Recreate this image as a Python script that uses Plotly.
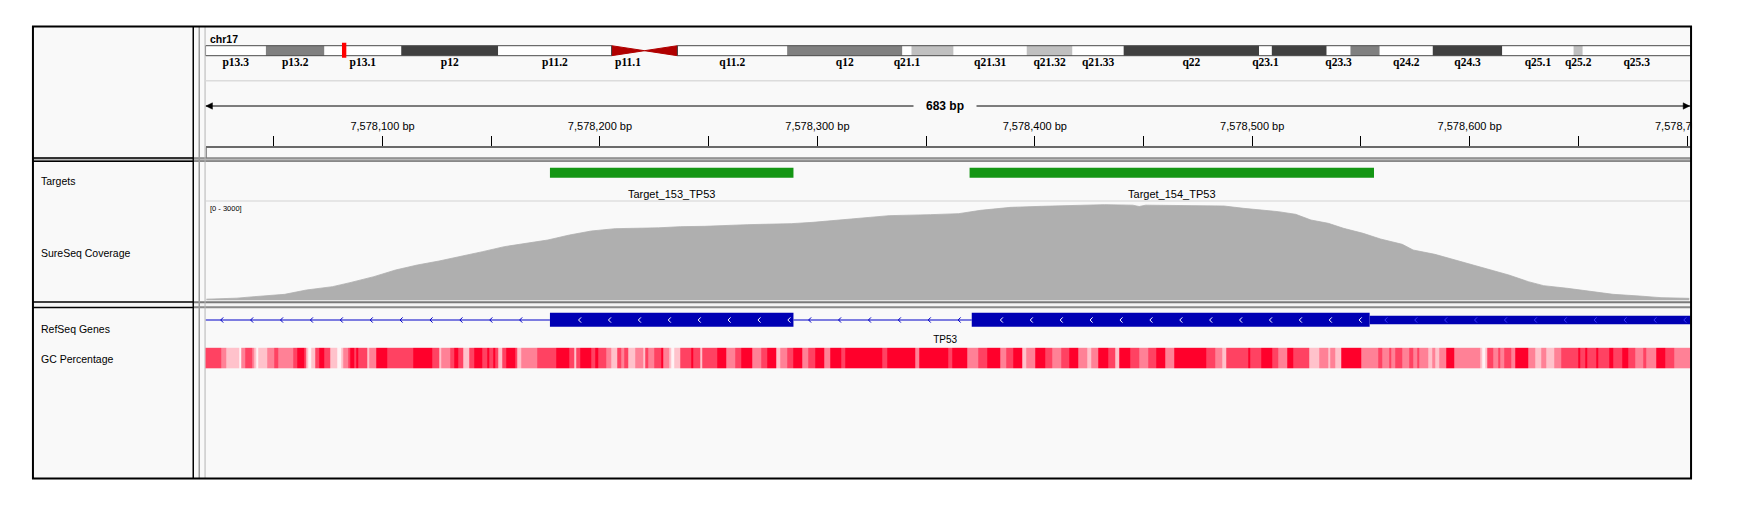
import plotly.graph_objects as go

W, H = 1753, 513

# ============================ DATA ============================
chrom_name = "chr17"
chrom_length = 81195210
band_names = ["p13.3", "p13.2", "p13.1", "p12", "p11.2", "p11.1", "q11.1", "q11.2",
              "q12", "q21.1", "q21.2", "q21.31", "q21.32", "q21.33", "q22", "q23.1",
              "q23.2", "q23.3", "q24.1", "q24.2", "q24.3", "q25.1", "q25.2", "q25.3"]
band_starts = [0, 3300000, 6500000, 10700000, 16000000, 22200000, 24000000, 25800000,
               31800000, 38100000, 38600000, 40900000, 44900000, 47400000, 50200000, 57600000,
               58300000, 61300000, 62600000, 64200000, 67100000, 70900000, 74800000, 75300000]
band_stains = ["gneg", "gpos50", "gneg", "gpos75", "gneg", "acen", "acen", "gneg",
               "gpos50", "gneg", "gpos25", "gneg", "gpos25", "gneg", "gpos75", "gneg",
               "gpos75", "gneg", "gpos50", "gneg", "gpos75", "gneg", "gpos25", "gneg"]
band_labels_hidden = ["q11.1", "q21.2", "q23.2", "q24.1"]

view_start = 7578018.6
view_end = 7578701.6
view_width_text = "683 bp"

ruler_ticks = [7578050, 7578100, 7578150, 7578200, 7578250, 7578300, 7578350,
               7578400, 7578450, 7578500, 7578550, 7578600, 7578650, 7578700]
ruler_tick_text = ["", "7,578,100 bp", "", "7,578,200 bp", "", "7,578,300 bp", "",
                   "7,578,400 bp", "", "7,578,500 bp", "", "7,578,600 bp", "", "7,578,700 bp"]

track_names = ["Targets", "SureSeq Coverage", "RefSeq Genes", "GC Percentage"]

target_names = ["Target_153_TP53", "Target_154_TP53"]
target_starts = [7578177, 7578370]
target_ends = [7578289, 7578556]

pos_base = 7578000
cov_offset = [19, 33, 41, 55, 65, 77, 85, 96, 106, 116, 126, 136, 146, 156, 166, 176, 186,
              196, 207, 216, 227, 237, 248, 268, 288, 298, 308, 320, 323, 333, 352, 365, 375,
              389, 403, 418, 432, 445, 448, 451, 464, 475, 487, 496, 505, 512, 520, 527, 535,
              542, 551, 559, 569, 574, 584, 592, 599, 609, 618, 627, 634, 645, 655, 666, 678,
              688, 701]
cov_value = [40, 70, 115, 185, 315, 415, 535, 715, 915, 1065, 1185, 1315, 1465, 1615, 1715,
             1815, 1965, 2085, 2155, 2160, 2180, 2215, 2225, 2275, 2305, 2345, 2405, 2475,
             2495, 2545, 2575, 2605, 2705, 2795, 2825, 2855, 2875, 2860, 2820, 2860, 2850,
             2855, 2835, 2765, 2715, 2665, 2585, 2415, 2315, 2165, 2015, 1845, 1685, 1515,
             1385, 1235, 1115, 935, 765, 565, 445, 365, 285, 185, 135, 85, 65]
cov_max = 3000
cov_range_text = "[0 - 3000]"

gene_name = "TP53"
exon_starts = [7578177, 7578371]
exon_ends = [7578289, 7578554]
thin_starts = [7578554]
thin_ends = [7578702]

gc_run_start = [18, 26, 28, 34, 35, 37, 40, 41, 42, 43, 47, 50, 52, 59, 61, 64, 65, 66, 67, 69,
                71, 73, 76, 79, 81, 82, 84, 85, 87, 88, 89, 93, 94, 97, 102, 114, 123, 126, 127,
                131, 133, 135, 137, 140, 142, 146, 148, 149, 151, 152, 153, 155, 157, 161, 162,
                164, 171, 180, 186, 188, 189, 191, 196, 198, 199, 203, 205, 208, 210, 211, 213,
                216, 220, 221, 222, 225, 228, 229, 232, 233, 234, 237, 242, 243, 246, 247,
                251, 254, 258, 262, 265, 270, 274, 277, 281, 283, 286, 289, 293, 296, 299, 303,
                306, 311, 313, 330, 332, 345, 347, 360, 362, 369, 374, 378, 384, 387, 390, 394,
                396, 400, 405, 408, 412, 416, 420, 424, 426, 429, 434, 437, 439, 444, 448, 452,
                456, 460,
                464, 479, 483, 486, 488, 498, 499, 504, 509, 512, 516, 519, 526, 531, 535, 536,
                538, 541, 550, 558, 560, 563, 564, 566, 569, 572, 574, 576, 577, 581, 583, 584,
                586, 589, 593, 605, 606, 607, 608, 611, 613, 614, 616, 619, 621, 627, 630, 633,
                635, 639, 642, 650, 651, 653, 654, 658, 659, 664, 666, 670, 673, 676, 680, 681,
                686, 690, 694]
gc_level = [3, 2, 1, 0, 2, 3, 2, 1, 0, 1, 2, 3, 2, 3, 4, 3, 1, 0, 1, 3,
            4, 3, 1, 0, 1, 2, 3, 4, 3, 4, 3, 1, 2, 4, 3, 4, 3, 1, 2,
            3, 4, 3, 1, 3, 4, 3, 4, 3, 4, 3, 1, 3, 4, 3, 1,
            2, 3, 4, 3, 1, 3, 4, 3, 4, 3, 2, 1, 3, 2, 3, 1,
            2, 1, 3, 2, 3, 4, 2, 1, 0, 1, 3, 4, 3, 1, 3,
            3, 4, 2, 3, 4, 2, 3, 4, 1, 2, 3, 4, 2, 3, 4, 2,
            4, 3, 4, 3, 4, 2, 4, 3, 4, 2, 3, 4, 2, 3, 4, 1,
            2, 4, 3, 2, 3, 4, 2, 1, 2, 4, 3, 1, 4, 3, 2, 3,
            4, 2,
            4, 3, 2, 1, 3, 4, 3, 4, 3, 2, 4, 3, 1, 2, 1, 2,
            1, 4, 2, 3, 2, 3, 2, 3, 2, 3, 2, 3, 2, 1, 2, 1,
            2, 4, 2, 1, 0, 1, 3, 2, 3, 2, 3, 2, 4, 2, 1, 2,
            1, 2, 3, 4, 3, 4, 3, 4, 3, 4, 3, 4, 3, 2, 3, 2,
            4, 3, 2]
gc_end = 702

# ============================ STYLE / LAYOUT ============================
FONT = "Liberation Sans"
X0, X1 = 209.0, 1719.0            # data panel, px
BOX_L, BOX_R, BOX_T, BOX_B = 33.5, 1719.5, 26.5, 478.5
NAME_R = 196.5
BG = "#f9f9f9"
stain_color = {"gneg": "#ffffff", "gpos25": "#c0c0c0", "gpos50": "#808080",
               "gpos75": "#404040", "gpos100": "#000000"}
gc_scale = [[0.0, "#fff3f5"], [0.25, "#ffc2cb"], [0.5, "#ff8196"],
            [0.75, "#ff4262"], [1.0, "#ff002b"]]

xdom = [X0 / W, X1 / W]


def ydom(top, bot):
    return [1 - bot / H, 1 - top / H]


def P(x, y):
    return x / W, 1 - y / H


def hline(x0, x1, y, color, w, layer="below"):
    return dict(type="line", xref="paper", yref="paper", x0=x0 / W, x1=x1 / W,
                y0=1 - y / H, y1=1 - y / H, line=dict(color=color, width=w), layer=layer)


def vline(x, y0, y1, color, w, layer="below"):
    return dict(type="line", xref="paper", yref="paper", x0=x / W, x1=x / W,
                y0=1 - y0 / H, y1=1 - y1 / H, line=dict(color=color, width=w), layer=layer)


def prect(x0, x1, y0, y1, fill, line_color=None, w=0, layer="below"):
    return dict(type="rect", xref="paper", yref="paper", x0=x0 / W, x1=x1 / W,
                y0=1 - y1 / H, y1=1 - y0 / H, fillcolor=fill,
                line=dict(color=line_color or "rgba(0,0,0,0)", width=w), layer=layer)


band_ends = band_starts[1:] + [chrom_length]
px_per_bp = (X1 - X0) / (view_end - view_start)
chrom_per_px = chrom_length / (X1 - X0)
vc = (view_start + view_end) / 2

fig = go.Figure()

# ---------------- ideogram ----------------
IDEO_T, IDEO_B = 45.7, 55.7
ideo_mid = (IDEO_T + IDEO_B) / 2
norm = [i for i, s in enumerate(band_stains) if s != "acen"]
fig.add_trace(go.Bar(
    orientation="h", base=[band_starts[i] for i in norm],
    x=[band_ends[i] - band_starts[i] for i in norm], y=[ideo_mid] * len(norm),
    width=IDEO_B - IDEO_T, marker=dict(color=[stain_color[band_stains[i]] for i in norm],
                                       line=dict(width=0)),
    xaxis="x2", yaxis="y", hoverinfo="skip", showlegend=False))
acen = [i for i, s in enumerate(band_stains) if s == "acen"]
p_cen, q_cen = acen[0], acen[1]
tri_x = [band_starts[p_cen], band_starts[p_cen], band_ends[p_cen], band_starts[p_cen], None,
         band_ends[q_cen], band_ends[q_cen], band_starts[q_cen], band_ends[q_cen]]
tri_y = [IDEO_T, IDEO_B, ideo_mid, IDEO_T, None, IDEO_T, IDEO_B, ideo_mid, IDEO_T]
fig.add_trace(go.Scatter(x=tri_x, y=tri_y, mode="lines", fill="toself",
                         fillcolor="#b00000", line=dict(color="#b00000", width=1),
                         xaxis="x2", yaxis="y", hoverinfo="skip", showlegend=False))
lab_idx = [i for i, n in enumerate(band_names) if n not in band_labels_hidden]
fig.add_trace(go.Scatter(
    x=[(band_starts[i] + band_ends[i]) / 2 for i in lab_idx], y=[62.8] * len(lab_idx),
    text=[band_names[i] for i in lab_idx], mode="text",
    textfont=dict(family="Liberation Serif", size=11.5, color="#000000", weight="bold"),
    xaxis="x2", yaxis="y", hoverinfo="skip", showlegend=False, cliponaxis=False))

# ---------------- targets ----------------
TG_Y = 172.7
fig.add_trace(go.Bar(
    orientation="h", base=target_starts,
    x=[e - s for s, e in zip(target_starts, target_ends)], y=[TG_Y] * len(target_starts),
    width=10, marker=dict(color="#149614", line=dict(width=0)),
    xaxis="x", yaxis="y2", hoverinfo="skip", showlegend=False))
fig.add_trace(go.Scatter(
    x=[(s + e) / 2 for s, e in zip(target_starts, target_ends)], y=[195.0] * len(target_names),
    text=target_names, mode="text", textfont=dict(family=FONT, size=11, color="#000000"),
    xaxis="x", yaxis="y2", hoverinfo="skip", showlegend=False, cliponaxis=False))

# ---------------- coverage ----------------
fig.add_trace(go.Scatter(
    x=[pos_base + o for o in cov_offset], y=cov_value, mode="lines", fill="tozeroy",
    fillcolor="#afafaf", line=dict(color="#afafaf", width=0.8),
    xaxis="x", yaxis="y3", hoverinfo="skip", showlegend=False))

# ---------------- gene ----------------
GENE_Y = 320.0
fig.add_trace(go.Bar(
    orientation="h", base=thin_starts, x=[e - s for s, e in zip(thin_starts, thin_ends)],
    y=[GENE_Y] * len(thin_starts), width=8.4, marker=dict(color="#0000b4", line=dict(width=0)),
    xaxis="x", yaxis="y4", hoverinfo="skip", showlegend=False))
fig.add_trace(go.Bar(
    orientation="h", base=exon_starts, x=[e - s for s, e in zip(exon_starts, exon_ends)],
    y=[GENE_Y - 0.3] * len(exon_starts), width=14, marker=dict(color="#0000b4", line=dict(width=0)),
    xaxis="x", yaxis="y4", hoverinfo="skip", showlegend=False))

blocks = sorted(zip(exon_starts + thin_starts, exon_ends + thin_ends))
introns = []
cur = view_start
for s, e in blocks:
    if s > cur:
        introns.append((cur, s))
    cur = max(cur, e)
if cur < view_end:
    introns.append((cur, view_end))

ix, iy = [], []
for s, e in introns:
    ix += [s, e, None]
    iy += [GENE_Y, GENE_Y, None]
fig.add_trace(go.Scatter(x=ix, y=iy, mode="lines", line=dict(color="#0000c8", width=1.2),
                         xaxis="x", yaxis="y4", hoverinfo="skip", showlegend=False))

step = 30.4 / px_per_bp
hw = 1.3 / px_per_bp
hh = 2.6


def chevrons(starts_ends, first, margin):
    xs, ys = [], []
    for s, e in starts_ends:
        c = s + first * step
        while c <= e - margin * step:
            xs += [c + hw, c - hw, c + hw, None]
            ys += [GENE_Y - hh, GENE_Y, GENE_Y + hh, None]
            c += step
    return xs, ys


cx, cy = chevrons(introns, 0.55, 0.3)
fig.add_trace(go.Scatter(x=cx, y=cy, mode="lines", line=dict(color="#0000c8", width=1),
                         xaxis="x", yaxis="y4", hoverinfo="skip", showlegend=False))
cx, cy = chevrons(list(zip(exon_starts, exon_ends)), 1.0, 0.1)
fig.add_trace(go.Scatter(x=cx, y=cy, mode="lines", line=dict(color="#ffffff", width=1),
                         xaxis="x", yaxis="y4", hoverinfo="skip", showlegend=False))
cx, cy = chevrons(list(zip(thin_starts, thin_ends)), 0.55, 0.0)
fig.add_trace(go.Scatter(x=cx, y=cy, mode="lines", line=dict(color="#3a3aff", width=1),
                         xaxis="x", yaxis="y4", hoverinfo="skip", showlegend=False))
fig.add_trace(go.Scatter(
    x=[vc - 3 / px_per_bp], y=[340.5], text=[gene_name], mode="text",
    textfont=dict(family=FONT, size=10, color="#000000"),
    xaxis="x", yaxis="y4", hoverinfo="skip", showlegend=False, cliponaxis=False))

# ---------------- GC percentage ----------------
gc_edges = [pos_base + s for s in gc_run_start] + [pos_base + gc_end]
fig.add_trace(go.Heatmap(
    x=gc_edges, y=[0, 1], z=[gc_level], zmin=0, zmax=4, colorscale=gc_scale,
    showscale=False, xaxis="x", yaxis="y5", hoverinfo="skip"))

# ruler axis holder
fig.add_trace(go.Scatter(x=[view_start], y=[0.5], mode="markers", marker=dict(opacity=0),
                         xaxis="x3", yaxis="y6", hoverinfo="skip", showlegend=False))

# ---------------- shapes ----------------
shapes = []
shapes.append(prect(BOX_L, BOX_R, BOX_T, BOX_B, BG))
shapes.append(prect(BOX_L, BOX_R, 157.5, 161.5, "#b8b8b8"))
shapes.append(hline(NAME_R, BOX_R, 158.0, "#6e6e6e", 1.2))
shapes.append(hline(NAME_R, BOX_R, 161.2, "#6e6e6e", 1.2))
shapes.append(hline(BOX_L, NAME_R, 158.0, "#000000", 1.5))
shapes.append(hline(BOX_L, NAME_R, 161.2, "#000000", 1.5))
shapes.append(prect(BOX_L, BOX_R, 301.0, 308.3, "#f4f4f4"))
shapes.append(hline(NAME_R, BOX_R, 302.2, "#7a7a7a", 2))
shapes.append(hline(NAME_R, BOX_R, 307.2, "#8a8a8a", 2))
shapes.append(hline(BOX_L, NAME_R, 302.0, "#000000", 1.5))
shapes.append(hline(BOX_L, NAME_R, 307.5, "#000000", 1.5))
shapes.append(vline(NAME_R, BOX_T, BOX_B, "#000000", 1.5))
shapes.append(vline(202.6, BOX_T, BOX_B, "#9a9a9a", 1.5))
shapes.append(vline(X0 - 0.5, BOX_T, BOX_B, "#b4b4b4", 1))
shapes.append(hline(X0, X1, 80.7, "#dcdcdc", 1.6))
shapes.append(vline(X0 + 0.8, 147.5, 158.0, "#7a7a7a", 1))
shapes.append(hline(X0, X1, 201.0, "#d4d4d4", 1.2))
RY = 106.0
shapes.append(dict(type="line", xref="x", yref="paper", x0=view_start, x1=view_end,
                   y0=1 - RY / H, y1=1 - RY / H, line=dict(color="#000000", width=1),
                   layer="below"))
ax0, ay0 = P(X0 + 0.5, RY)
ax1, ay1 = P(X0 + 7, RY - 3.2)
ax2, ay2 = P(X0 + 7, RY + 3.2)
shapes.append(dict(type="path", xref="paper", yref="paper",
                   path=f"M{ax0},{ay0} L{ax1},{ay1} L{ax2},{ay2} Z",
                   fillcolor="#000000", line=dict(color="#000000", width=0.5)))
bx0, by0 = P(X1 - 1.0, RY)
bx1, by1 = P(X1 - 7.5, RY - 3.2)
bx2, by2 = P(X1 - 7.5, RY + 3.2)
shapes.append(dict(type="path", xref="paper", yref="paper",
                   path=f"M{bx0},{by0} L{bx1},{by1} L{bx2},{by2} Z",
                   fillcolor="#000000", line=dict(color="#000000", width=0.5)))
shapes.append(dict(type="rect", xref="x2", yref="y", x0=band_starts[0], x1=band_starts[p_cen],
                   y0=IDEO_T, y1=IDEO_B, line=dict(color="#4a4a4a", width=1),
                   fillcolor="rgba(0,0,0,0)", layer="above"))
shapes.append(dict(type="rect", xref="x2", yref="y", x0=band_ends[q_cen], x1=chrom_length,
                   y0=IDEO_T, y1=IDEO_B, line=dict(color="#4a4a4a", width=1),
                   fillcolor="rgba(0,0,0,0)", layer="above"))
shapes.append(dict(type="rect", xref="x2", yref="y", x0=vc - 2.2 * chrom_per_px,
                   x1=vc + 2.2 * chrom_per_px, y0=IDEO_T - 3, y1=IDEO_B + 2,
                   fillcolor="#ff0000", line=dict(width=0), layer="above"))
shapes.append(prect(BOX_R + 1, W, 0, H, "#ffffff", layer="above"))
shapes.append(dict(type="rect", xref="paper", yref="paper", x0=BOX_L / W, x1=BOX_R / W,
                   y0=1 - BOX_B / H, y1=1 - BOX_T / H, fillcolor="rgba(0,0,0,0)",
                   line=dict(color="#000000", width=2), layer="above"))

# ---------------- annotations ----------------
ann = []


def label(x, y, text, size=10.5, bold=False, anchor="left", bg=None, width=None):
    d = dict(xref="paper", yref="paper", x=x / W, y=1 - y / H, text=text, showarrow=False,
             xanchor=anchor, yanchor="middle",
             font=dict(family=FONT, size=size, color="#000000",
                       weight="bold" if bold else "normal"))
    if bg:
        d["bgcolor"] = bg
    if width:
        d["width"] = width
    return d


ann.append(label(211.5, 38.5, chrom_name, size=10.5, bold=True))
ann.append(label((X0 + X1) / 2 - 3, RY, view_width_text, size=12, bold=True, anchor="center",
                 bg=BG, width=60))
ann.append(label(212, 208.3, cov_range_text, size=7.5))
track_y = [181.0, 252.7, 329.0, 359.0]
for name, ty in zip(track_names, track_y):
    ann.append(label(39.5, ty, name, size=10.5))

fig.update_layout(
    width=W, height=H, margin=dict(l=0, r=0, t=0, b=0),
    paper_bgcolor="#ffffff", plot_bgcolor="rgba(0,0,0,0)",
    barmode="overlay", hovermode=False, showlegend=False,
    shapes=shapes, annotations=ann,
    xaxis=dict(domain=xdom, range=[view_start, view_end], visible=False, anchor="y2"),
    xaxis2=dict(domain=xdom, range=[0, chrom_length], visible=False, anchor="y"),
    xaxis3=dict(domain=xdom, range=[view_start, view_end], anchor="y6", side="top",
                tickmode="array", tickvals=ruler_ticks, ticktext=ruler_tick_text,
                ticks="outside", ticklen=10, tickwidth=1, tickcolor="#000000",
                showline=True, linecolor="#6a6a6a", linewidth=1.5, showgrid=False,
                zeroline=False, tickfont=dict(family=FONT, size=11, color="#000000"),
                ticklabelstandoff=1),
    yaxis=dict(domain=ydom(38, 72), range=[72, 38], visible=False, anchor="x2"),
    yaxis2=dict(domain=ydom(162, 201), range=[201, 162], visible=False, anchor="x"),
    yaxis3=dict(domain=ydom(200.5, 300.5), range=[0, cov_max], visible=False, anchor="x"),
    yaxis4=dict(domain=ydom(309, 346), range=[346, 309], visible=False, anchor="x"),
    yaxis5=dict(domain=ydom(347.6, 368.4), range=[0, 1], visible=False, anchor="x"),
    yaxis6=dict(domain=ydom(147.5, 157), range=[0, 1], visible=False, anchor="x3"),
)

fig.write_html(
    "out.html",
    config={"responsive": False, "displayModeBar": False},
    post_script="document.body.style.margin='0';document.body.style.padding='0';"
                "document.body.style.overflow='hidden';",
)
